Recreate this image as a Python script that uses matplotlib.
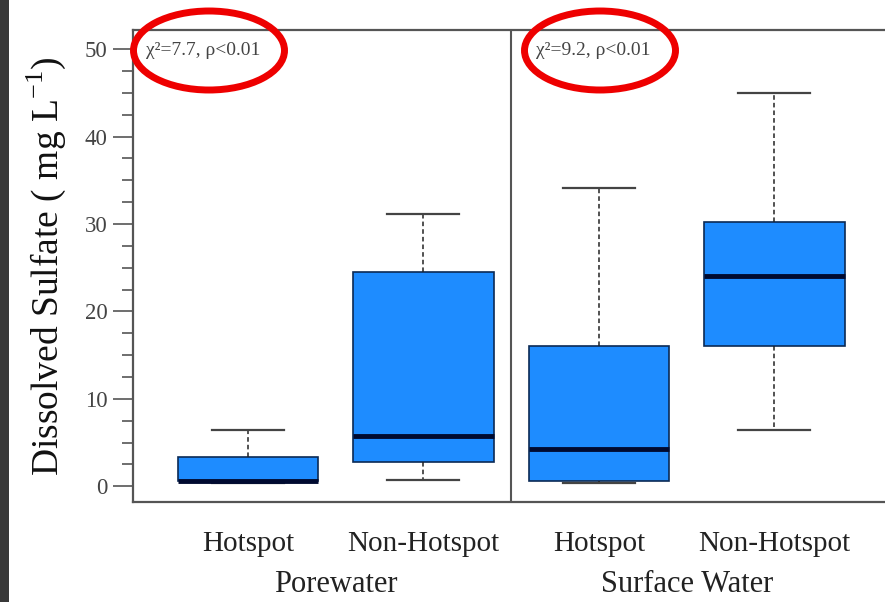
import matplotlib
matplotlib.use("Agg")
import matplotlib.pyplot as plt
from matplotlib.patches import Ellipse, Rectangle
from matplotlib.ticker import MultipleLocator

plt.rcParams['font.family'] = ['Liberation Serif', 'DejaVu Serif']
plt.rcParams['mathtext.fontset'] = 'custom'
plt.rcParams['mathtext.rm'] = 'Liberation Serif'

# Dissolved sulfate summaries (mg/L): whisker low, Q1, median, Q3, whisker high
categories = ["Hotspot", "Non-Hotspot", "Hotspot", "Non-Hotspot"]
groups = ["Porewater", "Surface Water"]
whislo = [0.4, 0.7, 0.4, 6.4]
q1 = [0.6, 2.8, 0.6, 16.1]
med = [0.55, 5.7, 4.3, 24.1]
q3 = [3.3, 24.5, 16.0, 30.2]
whishi = [6.4, 31.1, 34.1, 45.0]
stat_labels = ["χ²=7.7, ρ<0.01", "χ²=9.2, ρ<0.01"]

W, H = 885, 602
fig = plt.figure(figsize=(W / 100, H / 100), dpi=100)
fig.patch.set_facecolor("white")
fig.patches.append(Rectangle((0, 0), 9 / W, 1, transform=fig.transFigure,
                             facecolor="#383838", edgecolor="none", zorder=0))

ax = fig.add_axes([133 / W, 1 - 502 / H, 1 - 133 / W, (502 - 30) / H])

stats = [dict(whislo=a, q1=b, med=c, q3=d, whishi=e, fliers=[])
         for a, b, c, d, e in zip(whislo, q1, med, q3, whishi)]
positions = [1, 2, 3, 4]
ax.bxp(stats, positions=positions, widths=0.8, patch_artist=True,
       showfliers=False, capwidths=0.41,
       boxprops=dict(facecolor="#1E8CFF", edgecolor="#0b2a55", linewidth=1.2),
       medianprops=dict(color="#000a30", linewidth=3.5, solid_capstyle="butt"),
       whiskerprops=dict(color="#222222", linewidth=1.1, linestyle=(0, (3, 2))),
       capprops=dict(color="#444444", linewidth=1.6))

ax.set_xlim(0.345, 4.63)
ax.set_ylim(-1.8, 52.2)
ax.axvline(2.5, color="#555555", linewidth=1.5)

for side in ["left", "bottom", "top"]:
    ax.spines[side].set_color("#555555")
    ax.spines[side].set_linewidth(1.6)
ax.spines["right"].set_visible(False)

ax.yaxis.set_major_locator(MultipleLocator(10))
ax.yaxis.set_minor_locator(MultipleLocator(2.5))
ax.tick_params(axis="y", which="major", direction="out", length=14.5, width=1.2,
               color="#555555", labelsize=16.5, labelcolor="#444444", pad=4)
ax.tick_params(axis="y", which="minor", direction="out", length=8, width=1.2,
               color="#555555")
ax.set_xticks(positions)
ax.set_xticklabels(categories)
ax.tick_params(axis="x", length=0, labelsize=21, labelcolor="#222222", pad=21)

ax.set_ylabel("Dissolved Sulfate ( mg L$^{\\mathrm{-1}}$)", fontsize=27,
              color="#111111", labelpad=12)

for x, g in zip([1.5, 3.5], groups):
    ax.text(x, -0.175, g, transform=ax.get_xaxis_transform(), ha="center",
            va="center", fontsize=22, color="#222222")

for x, s in zip([0.42, 2.64], stat_labels):
    ax.text(x, 49.9, s, ha="left", va="center", fontsize=14, color="#444444")

# red highlight rings around the test statistics
for cx in [209, 600]:
    fig.patches.append(Ellipse((cx / W, 1 - 50.5 / H), 151 / W, 79 / H,
                               transform=fig.transFigure, fill=False,
                               edgecolor="#ee0000", linewidth=5, zorder=5))

fig.savefig("out.png", dpi=100)
